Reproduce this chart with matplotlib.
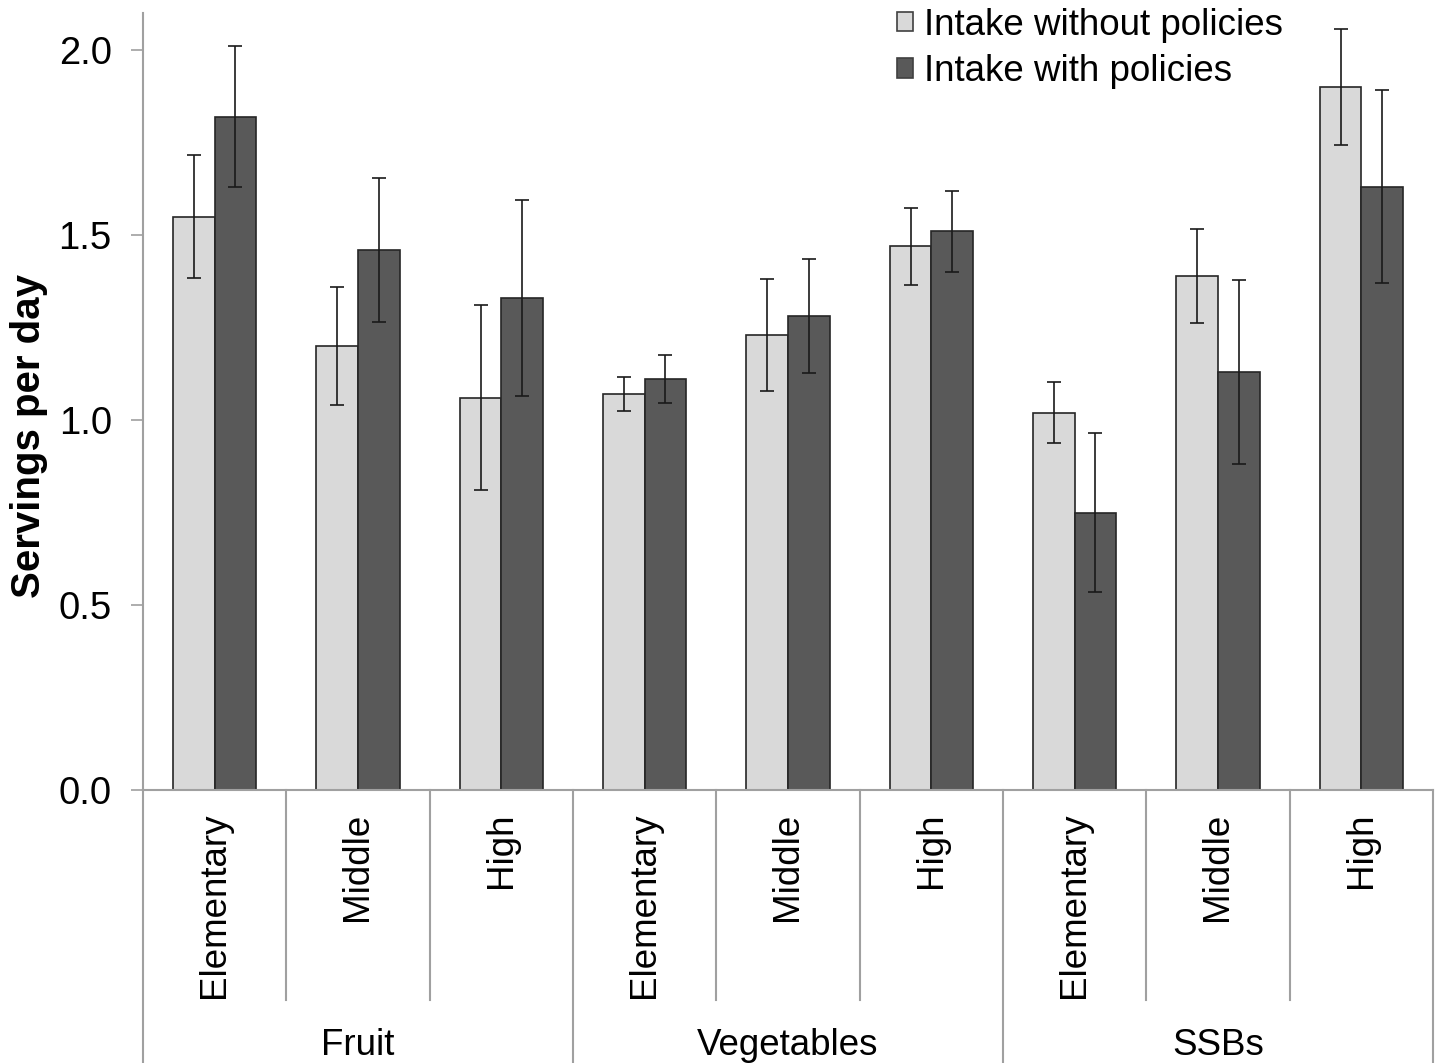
import matplotlib
matplotlib.use("Agg")
import matplotlib.pyplot as plt
from matplotlib.patches import Patch
from matplotlib.transforms import blended_transform_factory
import numpy as np

plt.rcParams['font.family'] = ['Liberation Sans', 'DejaVu Sans']

# data
foods = ['Fruit', 'Vegetables', 'SSBs']
levels = ['Elementary', 'Middle', 'High']
without = [1.55, 1.20, 1.06, 1.07, 1.23, 1.47, 1.02, 1.39, 1.90]
without_err = [0.165, 0.16, 0.25, 0.046, 0.152, 0.104, 0.083, 0.127, 0.157]
with_pol = [1.82, 1.46, 1.33, 1.11, 1.28, 1.51, 0.75, 1.13, 1.63]
with_err = [0.19, 0.194, 0.264, 0.065, 0.154, 0.11, 0.216, 0.249, 0.261]

W, H = 1435, 1063
fig = plt.figure(figsize=(W / 100, H / 100), dpi=100)
ax = fig.add_axes([143 / W, 273 / H, (1433 - 143) / W, 777 / H])

n = len(without)
x = np.arange(n) + 0.5
bw = 0.29
light = '#d9d9d9'
dark = '#595959'
grey = '#a0a0a0'

ekw = dict(ecolor='#1a1a1a', elinewidth=1.2, capsize=5, capthick=1.2)
ax.bar(x - bw / 2, without, bw, color=light, edgecolor='#262626', linewidth=1.2,
       yerr=without_err, error_kw=ekw, zorder=2)
ax.bar(x + bw / 2, with_pol, bw, color=dark, edgecolor='#262626', linewidth=1.2,
       yerr=with_err, error_kw=ekw, zorder=2)

ax.set_xlim(0, n)
ax.set_ylim(0, 2.1)
ax.set_yticks([0, 0.5, 1.0, 1.5, 2.0])
ax.set_yticklabels(['%.1f' % v for v in [0, 0.5, 1.0, 1.5, 2.0]])
ax.tick_params(axis='y', direction='out', length=8.5, width=1.2, color=grey,
               labelsize=27.5, pad=14)
ax.set_xticks([])
for s in ['top', 'right']:
    ax.spines[s].set_visible(False)
for s in ['left', 'bottom']:
    ax.spines[s].set_color(grey)
    ax.spines[s].set_linewidth(1.5)

ax.set_ylabel('Servings per day', fontsize=29, fontweight='bold')
ax.yaxis.set_label_coords(-(143 - 48) / 1290, 0.455)

# two-level category axis
tr = blended_transform_factory(ax.transData, fig.transFigure)
ybot = 273 / H
for i in range(n + 1):
    yend = 0 if i % 3 == 0 else 63 / H
    ax.plot([i, i], [yend, ybot], transform=tr, color=grey, lw=1.5,
            clip_on=False)
for i in range(n):
    ax.text(x[i], (H - 813) / H, levels[i % 3], transform=tr, rotation=90,
            ha='center', va='top', fontsize=26.5)
for j, f in enumerate(foods):
    ax.text(3 * j + 1.5, 8 / H, f, transform=tr, ha='center', va='baseline',
            fontsize=26.5)

handles = [Patch(facecolor=light, edgecolor='#404040', linewidth=1.2),
           Patch(facecolor=dark, edgecolor='#404040', linewidth=1.2)]
fig.legend(handles, ['Intake without policies', 'Intake with policies'],
           loc='upper left', bbox_to_anchor=(893 / W, 1.0 - 4 / H), frameon=False,
           fontsize=26.5, handlelength=0.45, handleheight=0.45, handletextpad=0.3,
           labelspacing=0.32, borderaxespad=0, borderpad=0.1)

fig.savefig('out.png', dpi=100)
